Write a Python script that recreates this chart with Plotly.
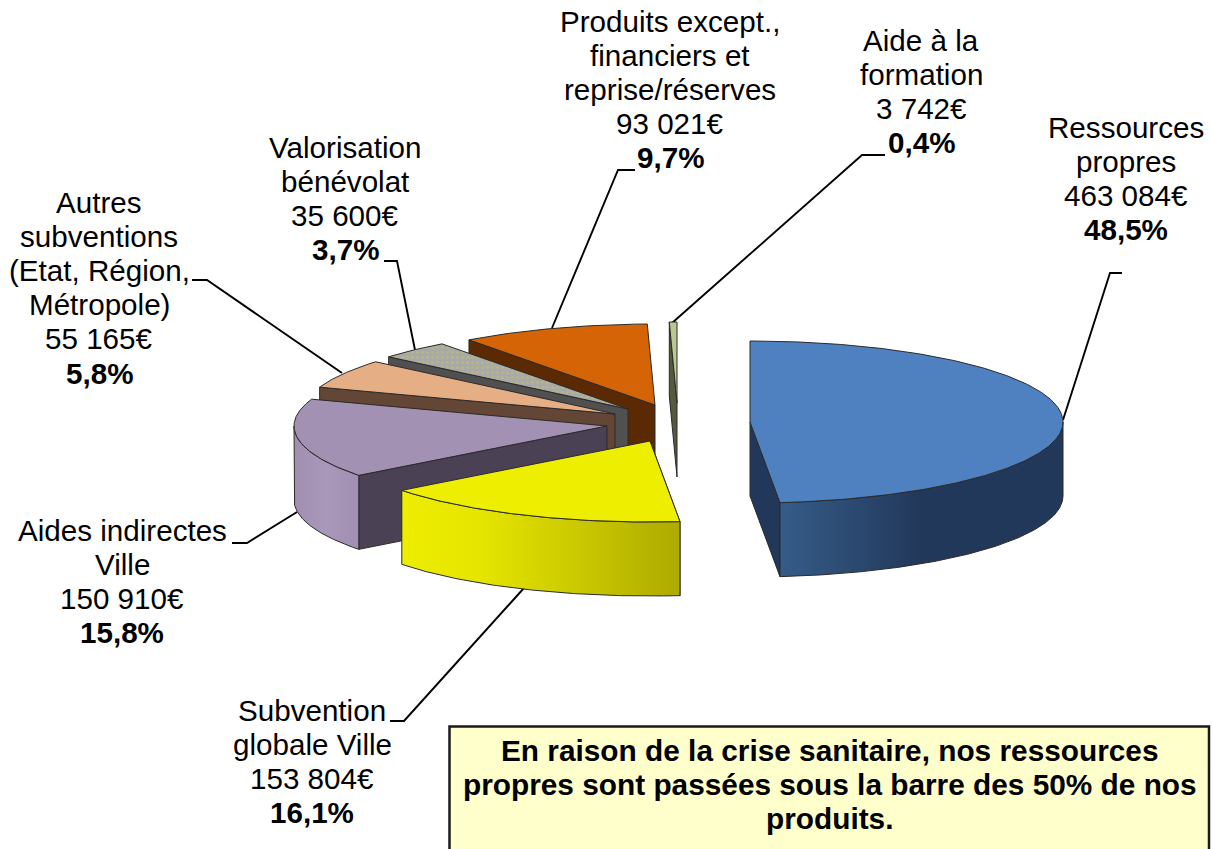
import math
import plotly.graph_objects as go

# ---- data ----
category_lines = [
    ["Ressources", "propres"],
    ["Subvention", "globale Ville"],
    ["Aides indirectes", "Ville"],
    ["Autres", "subventions", "(Etat, Région,", "Métropole)"],
    ["Valorisation", "bénévolat"],
    ["Produits except.,", "financiers et", "reprise/réserves"],
    ["Aide à la", "formation"],
]
values = [463084, 153804, 150910, 55165, 35600, 93021, 3742]
note_lines = [
    "En raison de la crise sanitaire, nos ressources",
    "propres sont passées sous la barre des 50% de nos",
    "produits.",
]

# ---- styling and layout ----
W, H = 1213, 849
RX, RY, DEPTH = 313, 81, 74
apex = [(750, 422), (650, 441), (607, 426), (615, 414), (628, 409), (655, 405), (677, 403)]
top_colors = ["#4f81c0", "#eeee00", "#a391b3", "#e6ae84", "#aaaaa6", "#d46406", "#b9c990"]
radial_colors = ["#22385a", "#a8a800", "#4a4154", "#634636", "#505050", "#5c2a02", "#545a3c"]
side_grad = [
    [[0, "#355c88"], [0.5, "#22385a"], [1, "#22385a"]],
    [[0, "#eeee00"], [0.3, "#e4e400"], [1, "#aeaa00"]],
    [[0, "#a08fb0"], [0.5, "#a998ba"], [1, "#a08fb0"]],
    None, None, None, None,
]
draw_order = [6, 5, 4, 3, 2, 1, 0]
EDGE = "#2a2a2a"

label_cx = [1126, 312, 122, 99, 345, 670, 921]
label_y0 = [127, 710, 530, 202, 147, 21, 40]
LINE_STEP = 34.2
FONT = "Liberation Sans, Arial, sans-serif"
FS = 29.6

leaders = [
    "M1122,273 L1110,273 L1063,420",
    "M390,721 L404,721 L524,588",
    "M232,543 L247,543 L297,512",
    "M192,280 L207,280 L342,373",
    "M384,261 L397,261 L415,350",
    "M635,170 L618,170 L552,328",
    "M885,155 L862,155 L672,323",
]

total = sum(values)
angles = [0]
for v in values:
    angles.append(angles[-1] + 360 * v / total)


def rim(i, deg, dy=0):
    a = math.radians(deg)
    return apex[i][0] + RX * math.sin(a), apex[i][1] - RY * math.cos(a) + dy


def arc(i, a, b, dy=0):
    n = max(2, int(abs(b - a) * 2))
    return [rim(i, a + (b - a) * k / n, dy) for k in range(n + 1)]


def poly(pts, **kw):
    xs = [p[0] for p in pts] + [pts[0][0]]
    ys = [p[1] for p in pts] + [pts[0][1]]
    return go.Scatter(x=xs, y=ys, mode="lines", fill="toself", hoverinfo="skip",
                      showlegend=False, line=dict(color=EDGE, width=1), **kw)


fig = go.Figure()
for i in draw_order:
    a, b = angles[i], angles[i + 1]
    cx, cy = apex[i]
    # flat cut face turned toward the viewer
    edge = b if b <= 180 else a
    p = rim(i, edge)
    fig.add_trace(poly([p, (cx, cy), (cx, cy + DEPTH), (p[0], p[1] + DEPTH)],
                       fillcolor=radial_colors[i]))
    # outer wall (front half only)
    lo, hi = max(a, 90), min(b, 270)
    if hi > lo:
        wall = arc(i, lo, hi) + arc(i, hi, lo, DEPTH)
        if side_grad[i]:
            fig.add_trace(poly(wall, fillgradient=dict(type="horizontal", colorscale=side_grad[i])))
        else:
            fig.add_trace(poly(wall, fillcolor=radial_colors[i]))
    # top face
    top = [(cx, cy)] + arc(i, a, b)
    if i == 4:
        fig.add_trace(poly(top, fillcolor=top_colors[i],
                           fillpattern=dict(shape=".", bgcolor="#a9a9a9", fgcolor="#c4c45c",
                                            size=5, solidity=0.25)))
    else:
        fig.add_trace(poly(top, fillcolor=top_colors[i]))

annotations = []


def line_text(text, x, y, size=FS, bold=False):
    annotations.append(dict(
        x=x, y=y, xref="x", yref="y", showarrow=False, xanchor="center", yanchor="middle",
        text=f"<b>{text}</b>" if bold else text,
        font=dict(family=FONT, size=size, color="#000000"),
    ))


for i, lines in enumerate(category_lines):
    y = label_y0[i]
    for t in lines:
        line_text(t, label_cx[i], y)
        y += LINE_STEP
    line_text(f"{values[i]:,}".replace(",", " ") + "€", label_cx[i], y)
    y += LINE_STEP
    line_text(f"{100 * values[i] / total:.1f}%".replace(".", ","), label_cx[i], y, bold=True)

for k, t in enumerate(note_lines):
    line_text(t, 829.5, 750 + 34 * k, size=29.8, bold=True)

shapes = [dict(type="path", path=p, xref="x", yref="y", layer="below",
               line=dict(color="#000000", width=1.9)) for p in leaders]
shapes.append(dict(type="rect", x0=449.5, x1=1209, y0=726.5, y1=860, xref="x", yref="y",
                   layer="below", fillcolor="#ffffcc", line=dict(color="#1a1a1a", width=2.5)))

fig.update_layout(
    width=W, height=H, margin=dict(l=0, r=0, t=0, b=0),
    paper_bgcolor="white", plot_bgcolor="white", showlegend=False,
    xaxis=dict(range=[0, W], visible=False, fixedrange=True),
    yaxis=dict(range=[H, 0], visible=False, fixedrange=True),
    annotations=annotations, shapes=shapes,
)
fig.write_html("out.html", config={"displayModeBar": False},
               post_script="document.body.style.margin='0';document.body.style.overflow='hidden';")
